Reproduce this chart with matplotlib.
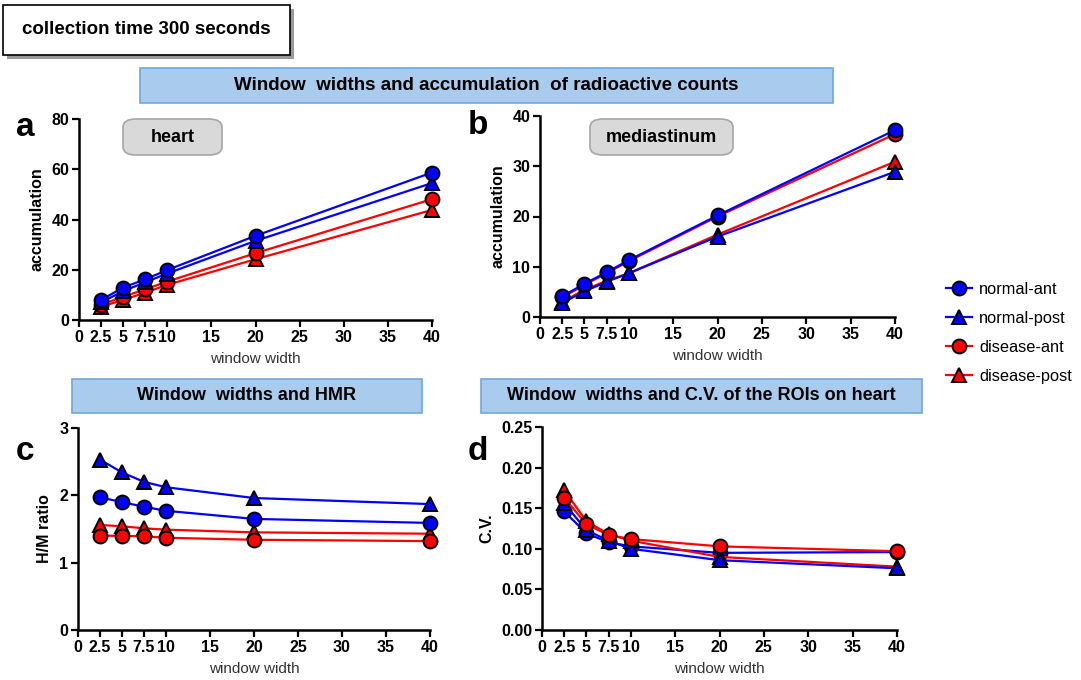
import matplotlib
matplotlib.use("Agg")
from matplotlib import pyplot as plt
from matplotlib.patches import FancyBboxPatch, Rectangle

# -- data --

window = [2.5, 5, 7.5, 10, 20, 40]
series = ["normal-ant", "normal-post", "disease-ant", "disease-post"]

heart_normal_ant = [8.0, 12.9, 16.2, 19.9, 33.5, 58.7]
heart_normal_post = [7.0, 11.5, 15.0, 18.5, 31.5, 54.5]
heart_disease_ant = [6.0, 9.3, 12.2, 15.3, 26.6, 48.1]
heart_disease_post = [5.3, 8.0, 10.9, 14.0, 24.2, 43.8]

med_normal_ant = [4.1, 6.6, 8.9, 11.3, 20.2, 37.2]
med_normal_post = [2.8, 5.1, 7.0, 8.7, 16.0, 28.9]
med_disease_ant = [3.9, 6.4, 8.7, 11.1, 20.0, 36.4]
med_disease_post = [3.0, 5.4, 7.2, 8.7, 16.4, 30.9]

hmr_normal_ant = [1.97, 1.90, 1.83, 1.77, 1.65, 1.59]
hmr_normal_post = [2.53, 2.34, 2.20, 2.12, 1.96, 1.87]
hmr_disease_ant = [1.40, 1.40, 1.39, 1.37, 1.34, 1.32]
hmr_disease_post = [1.56, 1.54, 1.51, 1.49, 1.45, 1.43]

cv_normal_ant = [0.146, 0.119, 0.108, 0.103, 0.095, 0.096]
cv_normal_post = [0.156, 0.123, 0.110, 0.100, 0.086, 0.076]
cv_disease_ant = [0.163, 0.130, 0.117, 0.112, 0.103, 0.097]
cv_disease_post = [0.172, 0.134, 0.118, 0.110, 0.090, 0.078]

xticks = [0, 2.5, 5, 7.5, 10, 15, 20, 25, 30, 35, 40]
xtick_labels = ["0", "2.5", "5", "7.5", "10", "15", "20", "25", "30", "35", "40"]

colors = ["#0000ff", "#0000ff", "#ff0000", "#ff0000"]
markers = ["o", "^", "o", "^"]

W, H = 1081, 680
plt.rcParams["font.family"] = ["Liberation Sans", "DejaVu Sans"]
fig = plt.figure(figsize=(W / 100, H / 100), dpi=100)


def px_rect(x0, y0, x1, y1):
    # pixel box (top-left origin) -> figure fraction rect
    return [x0 / W, 1 - y1 / H, (x1 - x0) / W, (y1 - y0) / H]


def draw_box(x0, y0, x1, y1, text, face, edge, size, rounded=False, lw=1.2):
    r = px_rect(x0, y0, x1, y1)
    style = "round,pad=0,rounding_size=0.012" if rounded else "square,pad=0"
    fig.patches.append(FancyBboxPatch((r[0], r[1]), r[2], r[3], boxstyle=style,
                                      transform=fig.transFigure, facecolor=face,
                                      edgecolor=edge, linewidth=lw))
    fig.text(r[0] + r[2] / 2, r[1] + r[3] / 2, text, ha="center", va="center",
             fontsize=size, fontweight="bold")


def draw_panel(rect, data, ymax, yticks, ylabel, yfmt, order):
    ax = fig.add_axes(rect)
    # order = stacking position of each series (higher is on top)
    for vals, c, m, z in zip(data, colors, markers, order):
        ax.plot(window, vals, color=c, lw=1.6, marker=m, markersize=10,
                markerfacecolor=c, markeredgecolor="black", markeredgewidth=1.4,
                clip_on=False, zorder=3 + z)
    ax.set_xlim(0, 40)
    ax.set_ylim(0, ymax)
    ax.set_xticks(xticks)
    ax.set_xticklabels(xtick_labels)
    ax.set_yticks(yticks)
    ax.set_yticklabels([yfmt.format(v) for v in yticks])
    for s in ["top", "right"]:
        ax.spines[s].set_visible(False)
    for s in ["left", "bottom"]:
        ax.spines[s].set_linewidth(1.8)
    ax.tick_params(width=1.6, length=5, labelsize=11.5, pad=2)
    for lab in ax.get_xticklabels() + ax.get_yticklabels():
        lab.set_fontweight("bold")
    ax.set_xlabel("window width", fontsize=11, color="#333333", labelpad=5)
    ax.set_ylabel(ylabel, fontsize=11.5, fontweight="bold", labelpad=5)
    return ax


blue_top = [4, 3, 2, 1]
draw_panel(px_rect(79, 119, 432, 320),
           [heart_normal_ant, heart_normal_post, heart_disease_ant, heart_disease_post],
           80, [0, 20, 40, 60, 80], "accumulation", "{:.0f}", blue_top)
draw_panel(px_rect(540, 116, 895, 317),
           [med_normal_ant, med_normal_post, med_disease_ant, med_disease_post],
           40, [0, 10, 20, 30, 40], "accumulation", "{:.0f}", blue_top)
draw_panel(px_rect(78, 428, 430, 630),
           [hmr_normal_ant, hmr_normal_post, hmr_disease_ant, hmr_disease_post],
           3, [0, 1, 2, 3], "H/M ratio", "{:.0f}", blue_top)
draw_panel(px_rect(542, 427, 897, 630),
           [cv_normal_ant, cv_normal_post, cv_disease_ant, cv_disease_post],
           0.25, [0, 0.05, 0.10, 0.15, 0.20, 0.25], "C.V.", "{:.2f}", [1, 3, 4, 2])

# header boxes
sh = px_rect(7, 9, 294, 59)
fig.patches.append(Rectangle((sh[0], sh[1]), sh[2], sh[3], transform=fig.transFigure,
                             facecolor="#9a9a9a", edgecolor="none"))
draw_box(3, 5, 290, 55, "collection time 300 seconds", "white", "black", 13.5)
draw_box(140, 68, 833, 103, "Window  widths and accumulation  of radioactive counts",
         "#a9cbee", "#6fa8dc", 13.5)
draw_box(123, 119, 222, 155, "heart", "#d9d9d9", "#a6a6a6", 13, rounded=True)
draw_box(590, 119, 733, 155, "mediastinum", "#d9d9d9", "#a6a6a6", 13, rounded=True)
draw_box(72, 379, 422, 413, "Window  widths and HMR", "#a9cbee", "#6fa8dc", 13)
draw_box(481, 379, 922, 413, "Window  widths and C.V. of the ROIs on heart", "#a9cbee", "#6fa8dc", 13)

# panel letters
for letter, (lx, ly) in zip("abcd", [(25, 128), (478, 125), (25, 452), (478, 452)]):
    fig.text(lx / W, 1 - ly / H, letter, fontsize=24, fontweight="bold", ha="center", va="center")

# legend
handles = []
for name, c, m in zip(series, colors, markers):
    h, = plt.plot([], [], color=c, lw=1.6, marker=m, markersize=10,
                  markerfacecolor=c, markeredgecolor="black", markeredgewidth=1.4, label=name)
    handles.append(h)
fig.legend(handles=handles, loc="center left", bbox_to_anchor=(931 / W, 1 - 333 / H),
           frameon=False, fontsize=11.8, handlelength=1.6, labelspacing=0.85, handletextpad=0.45)

fig.savefig("out.png", dpi=100)
